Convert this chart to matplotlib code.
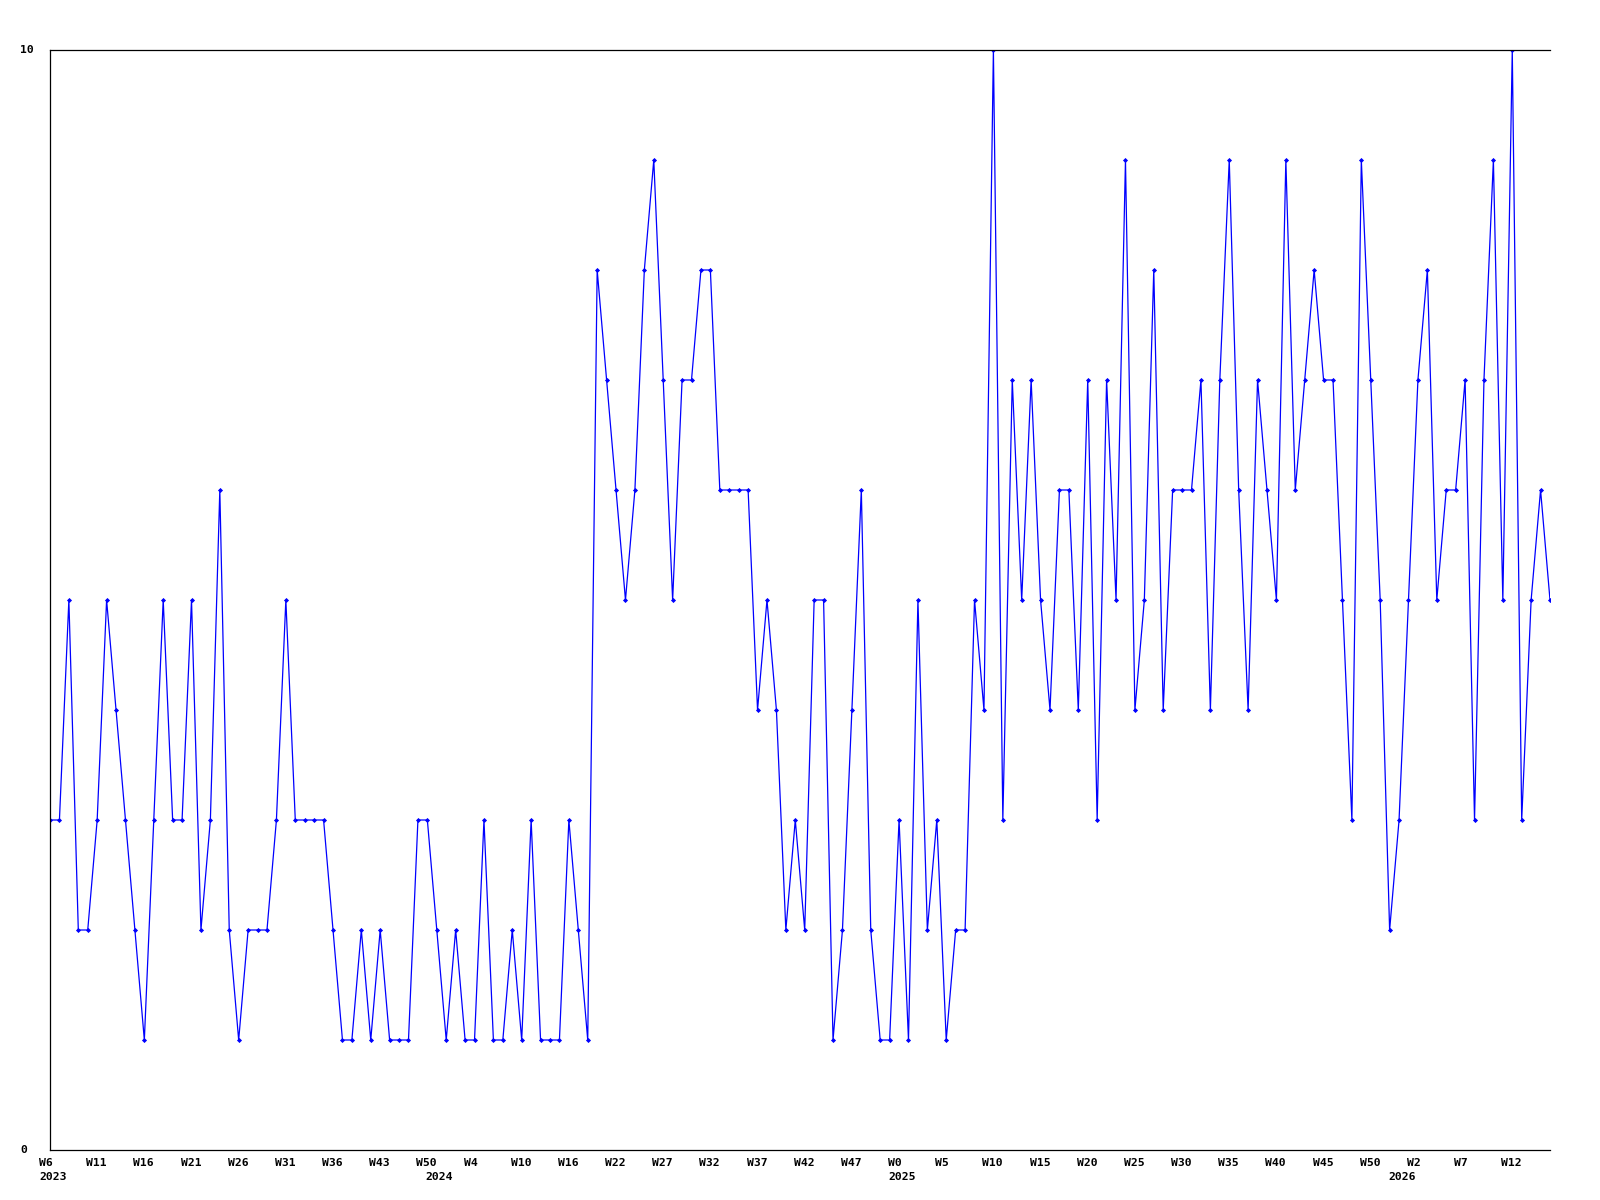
import matplotlib
matplotlib.use("Agg")
import matplotlib.pyplot as plt
import matplotlib.transforms as mtransforms
import numpy as np

# weekly values, W6 2023 .. W14 2026
values = [3, 3, 5, 2, 2, 3, 5, 4, 3, 2, 1, 3, 5, 3, 3, 5, 2, 3, 6, 2, 1, 2, 2, 2, 3, 5, 3,
          3, 3, 3, 2, 1, 1, 2, 1, 2, 1, 1, 1, 3, 3, 2, 1, 2, 1, 1, 3, 1, 1, 2, 1, 3, 1, 1,
          1, 3, 2, 1, 8, 7, 6, 5, 6, 8, 9, 7, 5, 7, 7, 8, 8, 6, 6, 6, 6, 4, 5, 4, 2, 3,
          2, 5, 5, 1, 2, 4, 6, 2, 1, 1, 3, 1, 5, 2, 3, 1, 2, 2, 5, 4, 10, 3, 7, 5, 7, 5, 4,
          6, 6, 4, 7, 3, 7, 5, 9, 4, 5, 8, 4, 6, 6, 6, 7, 4, 7, 9, 6, 4, 7, 6, 5, 9, 6,
          7, 8, 7, 7, 5, 3, 9, 7, 5, 2, 3, 5, 7, 8, 5, 6, 6, 7, 3, 7, 9, 5, 10, 3, 5, 6, 5]

week_labels = ["W6", "W11", "W16", "W21", "W26", "W31", "W36", "W43", "W50", "W4",
               "W10", "W16", "W22", "W27", "W32", "W37", "W42", "W47", "W0", "W5",
               "W10", "W15", "W20", "W25", "W30", "W35", "W40", "W45", "W50", "W2",
               "W7", "W12"]

year_labels = ["2023", "2024", "2025", "2026"]
year_weeks = [0, 41, 90, 143]   # index of the week under which the year is written

x = np.arange(len(values))

font = dict(family="DejaVu Sans Mono", weight="bold", size=8.2)

fig = plt.figure(figsize=(16, 12), dpi=100)
ax = fig.add_axes([50/1600, 50/1200, 1500/1600, 1100/1200])

ax.plot(x, values, color="#0000FF", lw=0.9, marker="D", ms=2.6, mew=0)

ax.set_xlim(0, len(values) - 1)
ax.set_ylim(0, 10)
ax.spines["right"].set_visible(False)
for s in ["left", "bottom", "top"]:
    ax.spines[s].set_linewidth(0.9)

ax.set_xticks(x[::5])
ax.set_xticklabels(week_labels, ha="left", **font)
ax.tick_params(axis="x", length=0, pad=6)
shift = mtransforms.ScaledTranslation(-11/100, 0, fig.dpi_scale_trans)
for lab in ax.get_xticklabels():
    lab.set_transform(lab.get_transform() + shift)

ax.set_yticks([])
fig.text(20/1600, 1 - 50/1200, "10", ha="left", va="center", **font)
fig.text(20/1600, 1 - 1150/1200, "0", ha="left", va="center", **font)

trans = mtransforms.blended_transform_factory(ax.transData, fig.transFigure)
for yl, wk in zip(year_labels, year_weeks):
    ax.text(wk, 1 - 1177/1200, yl, ha="left", va="center", transform=trans + shift,
            clip_on=False, **font)

fig.savefig("out.png", dpi=100)
